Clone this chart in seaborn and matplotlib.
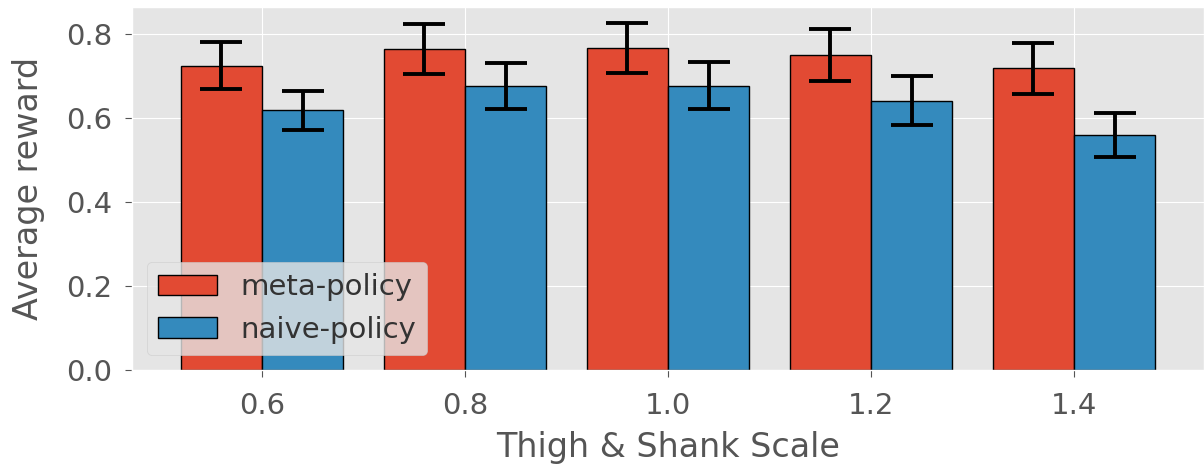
import matplotlib
matplotlib.use('Agg')
import matplotlib.pyplot as plt
import seaborn as sns
import pandas as pd

# values
scales = [0.6, 0.8, 1.0, 1.2, 1.4]
meta_mean = [0.724, 0.764, 0.767, 0.750, 0.718]
meta_err = [0.056, 0.059, 0.060, 0.062, 0.061]
naive_mean = [0.618, 0.676, 0.677, 0.641, 0.560]
naive_err = [0.047, 0.054, 0.056, 0.058, 0.052]
policies = ['meta-policy', 'naive-policy']

plt.style.use('ggplot')
plt.rcParams['font.size'] = 20
plt.rcParams['font.family'] = ['DejaVu Sans']

df = pd.DataFrame({
    'scale': scales * 2,
    'reward': meta_mean + naive_mean,
    'policy': [policies[0]] * 5 + [policies[1]] * 5,
})

fig = plt.figure(figsize=(12.04, 4.69), dpi=100)
ax = fig.add_axes([0.1096, 0.211, 0.8904, 0.775])

sns.barplot(data=df, x='scale', y='reward', hue='policy', native_scale=True,
            palette=['#E24A33', '#348ABD'], saturation=1, errorbar=None,
            edgecolor='black', linewidth=1, ax=ax)

# error bars on top of each bar container
for cont, errs in zip(ax.containers, [meta_err, naive_err]):
    xs = [p.get_x() + p.get_width() / 2 for p in cont.patches]
    ys = [p.get_height() for p in cont.patches]
    ax.errorbar(xs, ys, yerr=errs, fmt='none', ecolor='black',
                elinewidth=2.8, capsize=15, capthick=2.8)

ax.set_xticks(scales)
ax.set_xticklabels([f'{s:.1f}' for s in scales])
ax.set_ylim(0, 0.865)
ax.set_yticks([0.0, 0.2, 0.4, 0.6, 0.8])
ax.tick_params(length=5, colors='#555555', labelsize=21)
ax.tick_params(axis='x', pad=11)
ax.tick_params(axis='y', pad=9)
ax.set_xlabel('Thigh & Shank Scale', fontsize=24, color='#555555', labelpad=8)
ax.set_ylabel('Average reward', fontsize=24, color='#555555', labelpad=15)

sns.move_legend(ax, 'lower left', title=None, fontsize=21, framealpha=0.8,
                labelcolor='#333333')

fig.savefig('out.png', dpi=100)
